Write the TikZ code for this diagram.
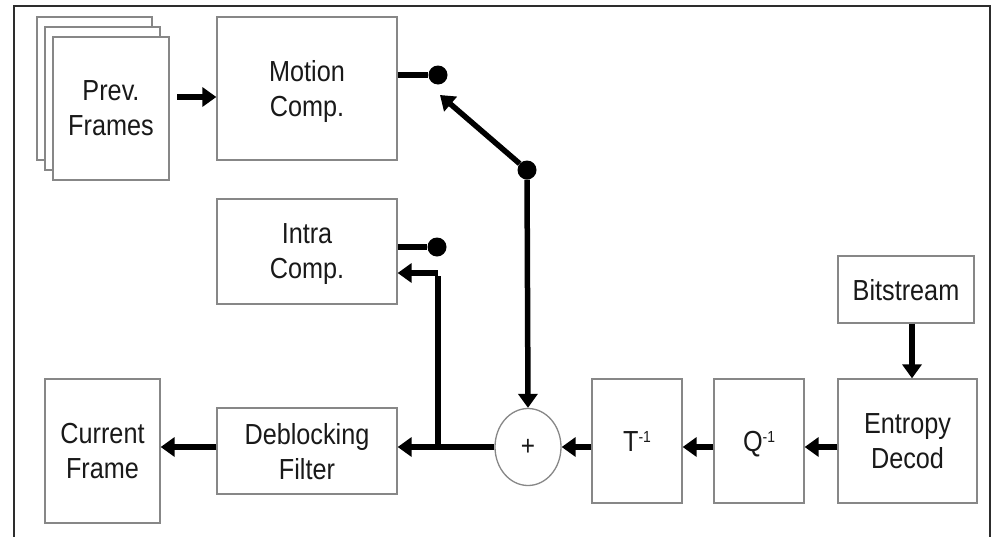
\documentclass[tikz,border=0pt]{standalone}
\usepackage{fontspec}
\setmainfont[FakeStretch=0.87]{Liberation Sans}
\usetikzlibrary{arrows.meta,shapes.geometric,calc}
\definecolor{boxgray}{RGB}{135,135,135}
\definecolor{txt}{RGB}{25,25,25}
\definecolor{framec}{RGB}{45,45,45}
\tikzset{
  blk/.style={draw=boxgray, line width=1.3pt, fill=white, text=txt, align=center,
    inner sep=0pt, text depth=0pt, font=\fontsize{29}{35}\selectfont},
  arr/.style={line width=5.5pt, -{Triangle[length=14pt,width=19pt]}},
  ln/.style={line width=5.5pt},
  dot/.style={circle, fill=black, inner sep=0pt, minimum size=19pt},
}
\newcommand{\supone}{\raisebox{9pt}{\fontsize{16}{16}\selectfont -1}}
\begin{document}
\begin{tikzpicture}[x=1pt,y=-1pt]
\useasboundingbox (0,0) rectangle (994,536);
% outer frame
\draw[framec, line width=2pt] (14,545) -- (14,6) -- (990,6) -- (990,545);
% blocks
\node[blk, minimum width=115pt, minimum height=143pt] (pf3) at (94.5,88.5) {};
\node[blk, minimum width=115pt, minimum height=143pt] (pf2) at (102.5,98.5) {};
\node[blk, minimum width=116pt, minimum height=143pt] (pf) at (111,108.5) {Prev.\\Frames};
\node[blk, minimum width=180pt, minimum height=143pt] (mc) at (307,88.5) {Motion\\Comp.};
\node[blk, minimum width=180pt, minimum height=105pt] (ic) at (307,251.5) {Intra\\Comp.};
\node[blk, minimum width=115pt, minimum height=144pt] (cf) at (102.5,451) {Current\\Frame};
\node[blk, minimum width=180pt, minimum height=86pt] (db) at (307,451) {Deblocking\\Filter};
\node[blk, shape=ellipse, minimum width=66pt, minimum height=77pt, font=\fontsize{28}{28}\selectfont] (sum) at (528,447) {+};
\node[blk, minimum width=90pt, minimum height=124pt] (t) at (637,441) {T\supone};
\node[blk, minimum width=90pt, minimum height=124pt] (q) at (759,441) {Q\supone};
\node[blk, minimum width=139pt, minimum height=124pt] (ed) at (907.5,441) {Entropy\\Decod};
\node[blk, minimum width=136pt, minimum height=67pt] (bs) at (906,289.5) {Bitstream};
% switch dots
\node[dot] (md) at (438,75) {};
\node[dot] (id) at (437,247) {};
\node[dot] (sw) at (527,170) {};
\coordinate (swtip) at (440,95);
\coordinate (pfout) at (177,97);
\coordinate (j) at (438,447);
\coordinate (turn) at (438,273);
% connectors
\draw[arr] (pfout) -- (mc.west |- pfout);
\draw[ln] (mc.east |- md) -- (md);
\draw[ln] (ic.east |- id) -- (id);
\draw[arr] (sw) -- (swtip);
\draw[arr] (sw) -- (sum.north);
\draw[arr] (bs.south -| 912,0) -- (ed.north -| 912,0);
\draw[arr] (ed.west |- sum) -- (q.east |- sum);
\draw[arr] (q.west |- sum) -- (t.east |- sum);
\draw[arr] (t.west |- sum) -- (sum.east);
\draw[arr] (sum.west) -- (db.east |- sum);
\draw[ln] (j) -- ([yshift=-2.75pt]turn);
\draw[arr] (turn) -- (ic.east |- turn);
\draw[arr] (db.west |- sum) -- (cf.east |- sum);
\end{tikzpicture}
\end{document}
